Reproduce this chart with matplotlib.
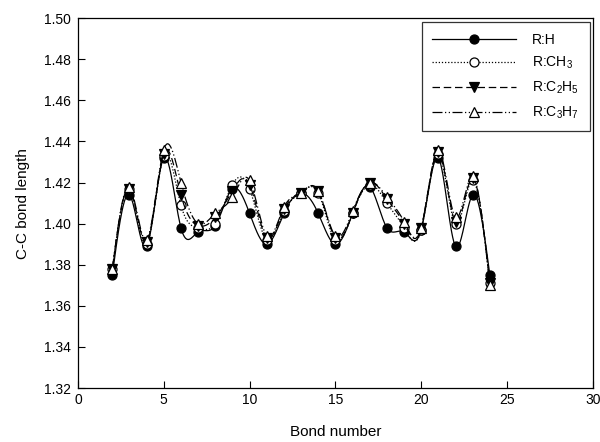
import numpy as np
import matplotlib
matplotlib.use("Agg")
import matplotlib.pyplot as plt

plt.rcParams['font.family'] = ['Liberation Sans', 'DejaVu Sans']

bond = [2, 3, 4, 5, 6, 7, 8, 9, 10, 11, 12, 13, 14, 15, 16, 17, 18, 19, 20, 21, 22, 23, 24]
r_h = [1.375, 1.414, 1.389, 1.432, 1.398, 1.396, 1.399, 1.417, 1.405, 1.390, 1.405, 1.415,
       1.405, 1.390, 1.405, 1.418, 1.398, 1.396, 1.397, 1.432, 1.389, 1.414, 1.375]
r_ch3 = [1.378, 1.417, 1.390, 1.433, 1.409, 1.398, 1.400, 1.419, 1.417, 1.392, 1.406, 1.415,
         1.415, 1.392, 1.405, 1.419, 1.410, 1.398, 1.397, 1.434, 1.400, 1.421, 1.371]
r_c2h5 = [1.378, 1.417, 1.391, 1.434, 1.414, 1.399, 1.403, 1.416, 1.419, 1.393, 1.407, 1.415,
          1.416, 1.393, 1.405, 1.420, 1.412, 1.400, 1.398, 1.435, 1.401, 1.422, 1.371]
r_c3h7 = [1.378, 1.418, 1.392, 1.436, 1.420, 1.400, 1.405, 1.413, 1.421, 1.394, 1.408, 1.415,
          1.416, 1.394, 1.406, 1.420, 1.413, 1.401, 1.398, 1.436, 1.403, 1.423, 1.370]
labels = ['R:H', 'R:CH$\\mathregular{_3}$', 'R:C$\\mathregular{_2}$H$\\mathregular{_5}$',
          'R:C$\\mathregular{_3}$H$\\mathregular{_7}$']


def natural_spline(x, y, n=30):
    x = np.asarray(x, float)
    y = np.asarray(y, float)
    m = len(x)
    h = np.diff(x)
    A = np.zeros((m, m))
    b = np.zeros(m)
    A[0, 0] = 1
    A[-1, -1] = 1
    for i in range(1, m - 1):
        A[i, i - 1] = h[i - 1]
        A[i, i] = 2 * (h[i - 1] + h[i])
        A[i, i + 1] = h[i]
        b[i] = 3 * ((y[i + 1] - y[i]) / h[i] - (y[i] - y[i - 1]) / h[i - 1])
    c = np.linalg.solve(A, b)
    xs, ys = [], []
    for i in range(m - 1):
        t = np.linspace(0, h[i], n, endpoint=False)
        bi = (y[i + 1] - y[i]) / h[i] - h[i] * (2 * c[i] + c[i + 1]) / 3
        di = (c[i + 1] - c[i]) / (3 * h[i])
        xs.append(x[i] + t)
        ys.append(y[i] + bi * t + c[i] * t ** 2 + di * t ** 3)
    xs.append([x[-1]])
    ys.append([y[-1]])
    return np.concatenate(xs), np.concatenate(ys)


fig = plt.figure(figsize=(6.0, 4.42), dpi=100)
ax = fig.add_axes([0.13, 0.122, 0.858, 0.837])

series = [r_h, r_ch3, r_c2h5, r_c3h7]
styles = ['-', (0, (1, 1.5)), (0, (6, 3)), (0, (8, 2, 1, 2, 1, 2))]
markers = ['o', 'o', 'v', '^']
faces = ['black', 'white', 'black', 'white']

handles = []
for ys, ls, mk, fc, lab in zip(series, styles, markers, faces, labels):
    sx, sy = natural_spline(bond, ys)
    ax.plot(sx, sy, color='black', linestyle=ls, linewidth=0.9)
    ax.plot(bond, ys, linestyle='none', marker=mk, markersize=6.5,
            markerfacecolor=fc, markeredgecolor='black', markeredgewidth=0.9)
    h, = ax.plot([], [], color='black', linestyle=ls, linewidth=0.9, marker=mk,
                 markersize=6.5, markerfacecolor=fc, markeredgecolor='black',
                 markeredgewidth=0.9, label=lab)
    handles.append(h)

ax.set_xlim(0, 30)
ax.set_ylim(1.32, 1.50)
ax.set_xticks([0, 5, 10, 15, 20, 25, 30])
ax.set_yticks(np.arange(1.32, 1.5001, 0.02))
ax.yaxis.set_major_formatter(matplotlib.ticker.FormatStrFormatter('%.2f'))
ax.tick_params(direction='in', length=5, width=0.8, labelsize=10, top=False, right=False)
ax.tick_params(axis='y', pad=5)
for s in ax.spines.values():
    s.set_linewidth(0.9)
ax.set_xlabel('Bond number', fontsize=11, labelpad=13)
ax.set_ylabel('C-C bond length', fontsize=11, labelpad=10)

leg = ax.legend(handles=handles, loc='upper right', numpoints=1, handlelength=6.0,
                fontsize=10, frameon=True, fancybox=False, edgecolor='black',
                borderpad=0.75, labelspacing=0.6, handletextpad=1.2,
                borderaxespad=0, bbox_to_anchor=(0.994, 0.989))
leg.get_frame().set_linewidth(0.9)

fig.savefig('out.png', dpi=100)
